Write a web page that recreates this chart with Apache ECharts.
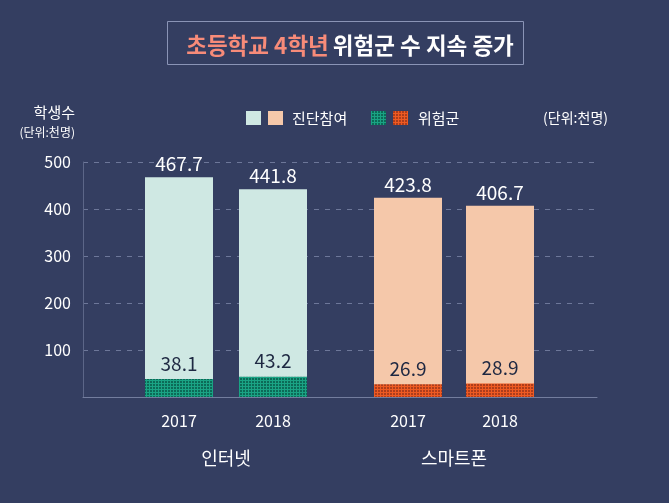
<!DOCTYPE html>
<html><head><meta charset="utf-8">
<script src="https://cdn.jsdelivr.net/npm/echarts@6/dist/echarts.min.js"></script>
<style>html,body{margin:0;padding:0;background:#343e61}#c{width:669px;height:503px}</style>
</head><body><div id="c"></div>
<script>
const groups = ['인터넷', '스마트폰'];
const years = ['2017', '2018'];
const internetTotal = [467.7, 441.8];
const internetRisk = [38.1, 43.2];
const smartTotal = [423.8, 406.7];
const smartRisk = [26.9, 28.9];
const yTicks = [0, 100, 200, 300, 400, 500];

const FONT = '"Noto Sans CJK KR", "Noto Sans", sans-serif';
function pattern(base, dark) {
  const c = document.createElement('canvas');
  c.width = 3; c.height = 3;
  const g = c.getContext('2d');
  g.fillStyle = base; g.fillRect(0, 0, 3, 3);
  g.fillStyle = dark; g.fillRect(0, 0, 2, 2);
  return c;
}
const tealPat = { image: pattern('#1aa384', '#0c6a57'), repeat: 'repeat' };
const orangePat = { image: pattern('#ee5a22', '#ad3d1c'), repeat: 'repeat' };
const mint = '#cfe8e3', peach = '#f5c8aa';

const chart = echarts.init(document.getElementById('c'), null, { renderer: 'canvas' });
const gridCommon = { top: 162, bottom: 106 };
const yCommon = { type: 'value', min: yTicks[0], max: yTicks[yTicks.length - 1], interval: 100 };
const hiddenY = Object.assign({}, yCommon, { show: false, splitLine: { show: false } });
function groupX(gi, idx) {
  return {
    type: 'category', gridIndex: idx, data: years,
    axisLine: { show: false }, axisTick: { show: false },
    axisLabel: { color: '#ffffff', fontSize: 16, fontFamily: FONT, margin: 16 },
    name: groups[gi], nameLocation: 'middle', nameGap: 52,
    nameTextStyle: { color: '#ffffff', fontSize: 18, fontFamily: FONT }
  };
}
function totalSeries(idx, data, color) {
  return {
    type: 'bar', xAxisIndex: idx, yAxisIndex: idx, data: data, barWidth: 68, barGap: '-100%',
    itemStyle: { color: color }, silent: true,
    label: { show: true, position: 'top', distance: 4, color: '#ffffff', fontSize: 19, fontFamily: FONT }
  };
}
function riskSeries(idx, data, color) {
  return {
    type: 'bar', xAxisIndex: idx, yAxisIndex: idx, data: data, barWidth: 68, barGap: '-100%',
    itemStyle: { color: color }, silent: true,
    label: { show: true, position: 'top', distance: 6, color: '#1e2842', fontSize: 19, fontFamily: FONT }
  };
}

chart.setOption({
  backgroundColor: '#343e61',
  animation: false,
  textStyle: { fontFamily: FONT },
  title: {
    text: '{a|초등학교 4학년} {b|위험군 수 지속 증가}',
    left: 345, top: 29, textAlign: 'center',
    textStyle: { rich: {
      a: { color: '#f78b79', fontSize: 22.5, fontWeight: 'bold', fontFamily: FONT },
      b: { color: '#ffffff', fontSize: 22.5, fontWeight: 'bold', fontFamily: FONT }
    } }
  },
  grid: [
    Object.assign({ left: 83, right: 72 }, gridCommon),
    Object.assign({ left: 132, width: 188 }, gridCommon),
    Object.assign({ left: 362, width: 184 }, gridCommon)
  ],
  xAxis: [
    { type: 'category', gridIndex: 0, data: [''], axisTick: { show: false }, axisLabel: { show: false },
      axisLine: { lineStyle: { color: '#737d9e', width: 1 } } },
    groupX(0, 1), groupX(1, 2)
  ],
  yAxis: [
    Object.assign({}, yCommon, {
      gridIndex: 0,
      axisLine: { show: true, lineStyle: { color: '#5c6688', width: 1 } },
      axisTick: { show: false },
      axisLabel: { color: '#ffffff', fontSize: 16, fontFamily: FONT, margin: 12,
        formatter: v => (v === 0 ? '' : String(v)) },
      splitLine: { show: true, lineStyle: { color: '#6d7799', type: [5, 6], width: 1 } }
    }),
    Object.assign({ gridIndex: 1 }, hiddenY),
    Object.assign({ gridIndex: 2 }, hiddenY)
  ],
  series: [
    totalSeries(1, internetTotal, mint),
    riskSeries(1, internetRisk, tealPat),
    totalSeries(2, smartTotal, peach),
    riskSeries(2, smartRisk, orangePat)
  ],
  graphic: [
    { type: 'rect', shape: { x: 167.5, y: 21.5, width: 356, height: 43 }, style: { fill: 'none', stroke: '#8a94b6', lineWidth: 1 } },
    { type: 'text', x: 75, y: 112, style: { text: '학생수', fill: '#ffffff', fontSize: 15, fontFamily: FONT, align: 'right', verticalAlign: 'middle' } },
    { type: 'text', x: 75, y: 132, style: { text: '(단위:천명)', fill: '#ffffff', fontSize: 12, fontFamily: FONT, align: 'right', verticalAlign: 'middle' } },
    { type: 'rect', shape: { x: 246, y: 111, width: 15, height: 14 }, style: { fill: mint } },
    { type: 'rect', shape: { x: 268, y: 111, width: 15, height: 14 }, style: { fill: peach } },
    { type: 'text', x: 292, y: 118, style: { text: '진단참여', fill: '#ffffff', fontSize: 15, fontFamily: FONT, verticalAlign: 'middle' } },
    { type: 'rect', shape: { x: 371, y: 111, width: 15, height: 14 }, style: { fill: tealPat } },
    { type: 'rect', shape: { x: 393, y: 111, width: 15, height: 14 }, style: { fill: orangePat } },
    { type: 'text', x: 418, y: 118, style: { text: '위험군', fill: '#ffffff', fontSize: 15, fontFamily: FONT, verticalAlign: 'middle' } },
    { type: 'text', x: 608, y: 118, style: { text: '(단위:천명)', fill: '#ffffff', fontSize: 14, fontFamily: FONT, align: 'right', verticalAlign: 'middle' } }
  ]
});
</script></body></html>
